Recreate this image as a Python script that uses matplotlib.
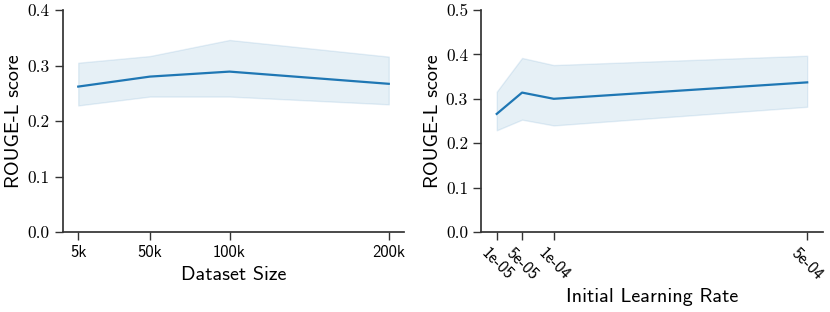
import matplotlib
matplotlib.use("Agg")
import matplotlib.pyplot as plt

# Left panel: dataset size
ds_sizes = [5000, 50000, 100000, 200000]
ds_labels = ["5k", "50k", "100k", "200k"]
ds_mean = [0.262, 0.280, 0.289, 0.267]
ds_upper = [0.305, 0.317, 0.346, 0.316]
ds_lower = [0.228, 0.244, 0.244, 0.230]

# Right panel: learning rate
lr_values = [1e-5, 5e-5, 1e-4, 5e-4]
lr_labels = ["1e-05", "5e-05", "1e-04", "5e-04"]
lr_mean = [0.266, 0.314, 0.300, 0.337]
lr_upper = [0.316, 0.392, 0.376, 0.397]
lr_lower = [0.229, 0.253, 0.240, 0.282]

left_yticks = [0.0, 0.1, 0.2, 0.3, 0.4]
right_yticks = [0.0, 0.1, 0.2, 0.3, 0.4, 0.5]

plt.rcParams['axes.formatter.use_mathtext'] = True

W, H = 830, 312
fig = plt.figure(figsize=(W / 100, H / 100), dpi=100)

color = "#1f77b4"
spine_color = "#333333"


def make_ax(x0, x1, y0, y1):
    return fig.add_axes([x0 / W, 1 - y1 / H, (x1 - x0) / W, (y1 - y0) / H])


def style(ax, xvals, xlabels, yticks, xlabel, rot):
    for s in ["top", "right"]:
        ax.spines[s].set_visible(False)
    for s in ["left", "bottom"]:
        ax.spines[s].set_color(spine_color)
        ax.spines[s].set_linewidth(1.25)
    ax.set_ylim(yticks[0], yticks[-1])
    ax.set_yticks(yticks)
    ax.set_yticklabels([f"{v:.1f}" for v in yticks], fontfamily="cmr10", fontsize=12.5)
    ax.set_xticks(xvals)
    if rot:
        ax.set_xticklabels(xlabels, fontfamily="cmss10", fontsize=12, rotation=-45,
                           ha="center", rotation_mode="default")
    else:
        ax.set_xticklabels(xlabels, fontfamily="cmss10", fontsize=12)
    ax.tick_params(axis="both", length=5.5, width=1.0, color=spine_color, pad=4)
    ax.set_ylabel("ROUGE-L score", fontfamily="cmss10", fontsize=14.5, labelpad=3)
    ax.set_xlabel(xlabel, fontfamily="cmss10", fontsize=14.5, labelpad=4)


ax1 = make_ax(62.7, 404.3, 10, 232)
ax1.fill_between(ds_sizes, ds_lower, ds_upper, color=color, alpha=0.11, linewidth=1)
ax1.plot(ds_sizes, ds_mean, color=color, linewidth=1.6)
style(ax1, ds_sizes, ds_labels, left_yticks, "Dataset Size", False)

ax2 = make_ax(481.2, 822.7, 10, 232)
ax2.fill_between(lr_values, lr_lower, lr_upper, color=color, alpha=0.11, linewidth=1)
ax2.plot(lr_values, lr_mean, color=color, linewidth=1.6)
style(ax2, lr_values, lr_labels, right_yticks, "Initial Learning Rate", True)

fig.savefig("out.png", dpi=100)
